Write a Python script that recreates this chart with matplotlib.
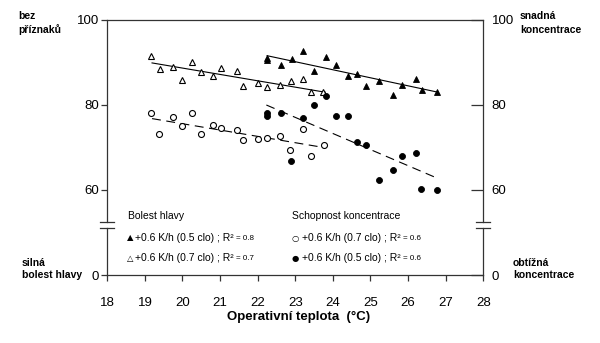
import matplotlib
matplotlib.use("Agg")
import matplotlib.pyplot as plt
from matplotlib.lines import TICKLEFT

# ---- data ----
# Bolest hlavy, +0.6 K/h (0.7 clo) - open triangles
head07_x = [19.17, 19.39, 19.75, 19.99, 20.26, 20.50, 20.81, 21.03, 21.45, 21.62,
            22.01, 22.26, 22.60, 22.88, 23.21, 23.43, 23.75]
head07_y = [91.5, 88.5, 89.0, 85.8, 90.2, 87.8, 86.9, 88.7, 88.1, 84.4,
            85.2, 84.2, 84.7, 85.6, 86.1, 83.1, 83.0]
head07_fit_x = [19.19, 23.80]
head07_fit_y = [89.9, 83.0]

# Bolest hlavy, +0.6 K/h (0.5 clo) - filled triangles
head05_x = [22.25, 22.25, 22.61, 22.90, 23.21, 23.50, 23.82, 24.09, 24.41, 24.65,
            24.89, 25.23, 25.61, 25.85, 26.22, 26.36, 26.77]
head05_y = [91.1, 90.5, 89.4, 90.8, 92.6, 87.9, 91.4, 89.4, 86.9, 87.4,
            84.5, 85.7, 82.4, 84.7, 86.1, 83.6, 83.0]
head05_fit_x = [22.25, 26.80]
head05_fit_y = [91.6, 83.0]

# Schopnost koncentrace, +0.6 K/h (0.7 clo) - open circles
conc07_x = [19.17, 19.38, 19.75, 19.99, 20.26, 20.49, 20.81, 21.03, 21.45, 21.62,
            22.01, 22.26, 22.60, 22.87, 23.20, 23.42, 23.76]
conc07_y = [78.0, 73.2, 77.1, 75.0, 78.0, 73.1, 75.4, 74.5, 74.2, 71.8,
            71.9, 72.3, 72.7, 69.5, 74.4, 67.9, 70.5]
conc07_fit_x = [19.19, 23.69]
conc07_fit_y = [76.8, 70.1]

# Schopnost koncentrace, +0.6 K/h (0.5 clo) - filled circles
conc05_x = [22.24, 22.24, 22.61, 22.89, 23.20, 23.50, 23.82, 24.09, 24.40, 24.65,
            24.89, 25.23, 25.61, 25.83, 26.21, 26.35, 26.77]
conc05_y = [78.2, 77.5, 78.2, 66.9, 77.0, 80.1, 82.1, 77.3, 77.3, 71.2,
            70.5, 62.4, 64.7, 68.0, 68.7, 60.3, 60.1]
conc05_fit_x = [22.23, 26.77]
conc05_fit_y = [80.0, 62.8]

x_ticks = [18, 19, 20, 21, 22, 23, 24, 25, 26, 27, 28]
y_ticks_top = [60, 80, 100]
y_ticks_bottom = [0]

FONT = ["Liberation Sans", "DejaVu Sans"]
plt.rcParams["font.family"] = FONT
SPINE = "#333333"

fig = plt.figure(figsize=(6.0, 3.43), dpi=100)
L, W = 107.3 / 600, 376.0 / 600
ax = fig.add_axes([L, 1 - 222 / 343, W, 202 / 343])
axb = fig.add_axes([L, 1 - 275 / 343, W, 47 / 343])

ppu = 4.25
ax.set_ylim(100 - 202 / ppu, 100)
axb.set_ylim(0, 47 / ppu)
for a in (ax, axb):
    a.set_xlim(18, 28)
    a.set_facecolor("none")
    for s in a.spines.values():
        s.set_color(SPINE)
        s.set_linewidth(0.9)
ax.spines["bottom"].set_visible(False)
axb.spines["top"].set_visible(False)

# data
ax.plot(head07_fit_x, head07_fit_y, color="black", lw=0.8)
ax.plot(head05_fit_x, head05_fit_y, color="black", lw=0.8)
ax.plot(conc07_fit_x, conc07_fit_y, color="black", lw=0.8, dashes=(8, 5))
ax.plot(conc05_fit_x, conc05_fit_y, color="black", lw=0.8, dashes=(8, 5))
ax.plot(head07_x, head07_y, ls="none", marker="^", ms=5, mfc="white", mec="black", mew=0.8)
ax.plot(head05_x, head05_y, ls="none", marker="^", ms=5, mfc="black", mec="black", mew=0.6)
ax.plot(conc07_x, conc07_y, ls="none", marker="o", ms=4.3, mfc="white", mec="black", mew=0.8)
ax.plot(conc05_x, conc05_y, ls="none", marker="o", ms=4.3, mfc="black", mec="black", mew=0.6)

# ticks
ax.set_xticks([])
ax.set_yticks(y_ticks_top)
axb.set_yticks(y_ticks_bottom)
axb.set_xticks(x_ticks)
axb.set_xticklabels([str(v) for v in x_ticks])
for a in (ax, axb):
    a.tick_params(axis="y", which="both", left=True, right=True, labelleft=True,
                  labelright=True, direction="out", length=4, width=0.9,
                  color=SPINE, labelsize=9.5, pad=2)
    for t in a.yaxis.get_major_ticks():
        t.tick2line.set_marker(TICKLEFT)   # right ticks cross the axis
        t.tick2line.set_markersize(9)
axb.tick_params(axis="x", direction="out", length=4, width=0.9, color=SPINE,
                labelsize=9.5, pad=12)

# axis-break marks
d = 7 / 376
for a, yv in ((ax, 0.0), (axb, 1.0)):
    for xv in (0.0, 1.0):
        a.plot([xv - d, xv + d], [yv, yv], transform=a.transAxes, color=SPINE,
               lw=0.9, clip_on=False)

fig.text(0.498, 1 - 317 / 343, "Operativní teplota  (°C)", ha="center", va="center",
         fontsize=9.5, fontweight="bold")

side = dict(fontsize=7.5, fontweight="bold", ha="left", va="center")
fig.text(18 / 600, 1 - 23 / 343, "bez\npříznaků", linespacing=1.4, **side)
fig.text(520 / 600, 1 - 23 / 343, "snadná\nkoncentrace", linespacing=1.4, **side)
fig.text(22 / 600, 1 - 269 / 343, "silná\nbolest hlavy", linespacing=1.15, **side)
fig.text(513 / 600, 1 - 269 / 343, "obtížná\nkoncentrace", linespacing=1.15, **side)


# legend-like texts
def entry(xm, xt, ypx, sym, label, r2):
    y = 1 - ypx / 343
    fig.text(xm / 600, y, sym, ha="center", va="center", fontsize=6,
             family=["DejaVu Sans"])
    t = fig.text(xt / 600, y, label, ha="left", va="center", fontsize=7.5)
    fig.add_artist(matplotlib.text.Annotation(
        "= " + r2, xy=(1, 0), xycoords=t, xytext=(2, 1),
        textcoords="offset points", fontsize=5.8, ha="left", va="bottom",
        annotation_clip=False))


fig.text(128 / 600, 1 - 216 / 343, "Bolest hlavy", fontsize=7.5, va="center")
fig.text(292 / 600, 1 - 216 / 343, "Schopnost koncentrace", fontsize=7.5, va="center")
entry(130.7, 135, 238, "▲", "+0.6 K/h (0.5 clo) ; R²", "0.8")
entry(130.7, 135, 258, "△", "+0.6 K/h (0.7 clo) ; R²", "0.7")
entry(295.5, 302, 238, "○", "+0.6 K/h (0.7 clo) ; R²", "0.6")
entry(295.5, 302, 258, "●", "+0.6 K/h (0.5 clo) ; R²", "0.6")

fig.savefig("out.png", dpi=100)
